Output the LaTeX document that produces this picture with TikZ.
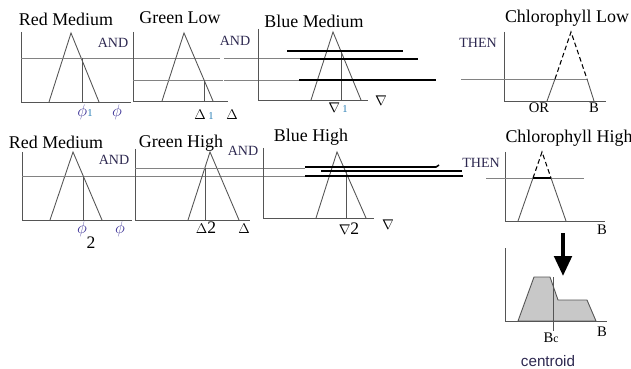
\documentclass[tikz,border=0pt]{standalone}
\usepackage{fontspec}
\setmainfont{Liberation Serif}
\newfontfamily\capfont{Liberation Sans}
\usetikzlibrary{arrows.meta}
\definecolor{axc}{RGB}{85,85,85}
\definecolor{lvc}{RGB}{130,130,130}
\definecolor{opc}{RGB}{45,40,80}
\definecolor{phc}{RGB}{60,50,150}
\definecolor{ixc}{RGB}{40,125,180}
\definecolor{arc}{RGB}{200,200,200}
% axes of one panel: #1 x of the axis, #2 top, #3 base, #4 right end
\newcommand{\axes}[4]{%
  \draw[axis] (#1,#2) -- (#1,#3) -- (#4,#3);}
% triangular set: #1 left foot, #2 apex x, #3 apex y, #4 right foot, #5 base
\newcommand{\mf}[5]{%
  \draw[tri] (#1,#5) -- (#2,#3) -- (#4,#5);}
\newcommand{\sx}[1]{{\fontsize{9}{10}\selectfont\textcolor{ixc}{#1}}}
\newcommand{\bx}[1]{{\fontsize{15}{16}\selectfont #1}}

\begin{document}
\begin{tikzpicture}[x=0.3mm, y=-0.3mm,
    axis/.style={draw=axc, line width=0.75pt},
    tri/.style={draw=axc, line width=0.75pt},
    lvl/.style={draw=lvc, line width=0.75pt},
    cut/.style={draw=black, line width=1.3pt},
    dsh/.style={draw=black, line width=0.9pt, dash pattern=on 4pt off 2.5pt},
    ttl/.style={font=\fontsize{15.3}{17}\selectfont},
    op/.style={font=\fontsize{12}{13}\selectfont, text=opc},
    lab/.style={font=\fontsize{12.5}{14}\selectfont},
    phl/.style={font=\fontsize{14.5}{16}\selectfont, text=phc},
  ]
  \useasboundingbox (0,0) rectangle (631,368);

  %% ================= first rule =================
  % Red Medium
  \axes{21}{32}{102}{131}
  \mf{49}{71}{33}{99}{102}
  \draw[lvl] (21,58) -- (220,58);
  \draw[axis] (82,58) -- (82,102);
  \node[ttl] (ttlRedA) at (66,19) {Red Medium};
  \node[op] (andRedA) at (113,43) {AND};
  \node[phl] (phiA) at (85,112) {$\phi$\sx{1}};
  \node[phl] (phiAx) at (117,112) {$\phi$};

  % Green Low
  \axes{133}{32}{101}{228}
  \mf{162}{184}{33}{213}{101}
  \draw[lvl] (133,80) -- (223,80);
  \draw[lvl] (224,58) -- (301,58);
  \draw[lvl] (224,80) -- (300,80);
  \draw[axis] (204,80) -- (204,101);
  \node[ttl] (ttlGrnA) at (180,18) {Green Low};
  \node[op] (andGrnA) at (235,41) {AND};
  \node[lab] (dltA) at (204,115) {$\Delta$\,\sx{1}};
  \node[lab] (dltAx) at (232,115) {$\Delta$};

  % Blue Medium
  \axes{258}{29}{100}{368}
  \mf{311}{333}{32}{361}{100}
  \draw[axis] (341,53) -- (341,100);
  \draw[cut, line width=1pt] (287,51) -- (403,51);
  \draw[cut] (300,59) -- (418,59);
  \draw[cut] (299,80) -- (436,80);
  \node[ttl] (ttlBluA) at (314,21) {Blue Medium};
  \node[lab] (nblA) at (338,108) {$\nabla$\,\sx{1}};
  \node[lab] (nblAx) at (381,101) {$\nabla$};

  % Chlorophyll Low
  \axes{504}{32}{101}{606}
  \draw[lvl] (461,79) -- (588,79);
  \draw[tri] (547,101) -- (555,79);
  \draw[dsh] (555,79) -- (571,32) -- (587,79);
  \draw[tri] (587,79) -- (594,101);
  \node[ttl] (ttlChlA) at (567,18) {Chlorophyll Low};
  \node[op] (thenA) at (478,43) {THEN};
  \node[lab] (orA) at (539,108) {OR};
  \node[lab] (bA) at (594,108) {B};

  %% ================= second rule =================
  % Red Medium
  \axes{22}{152}{220}{132}
  \mf{50}{73}{152}{102}{220}
  \draw[lvl] (22,176) -- (305,176);
  \draw[axis] (83,176) -- (83,220);
  \node[ttl] (ttlRedB) at (56,142) {Red Medium};
  \node[op] (andRedB) at (114,160) {AND};
  \node[phl] (phiB) at (82,229) {$\phi$};
  \node[lab] (twoB) at (91,243) {\bx{2}};
  \node[phl] (phiBx) at (120,229) {$\phi$};

  % Green High
  \axes{135}{149}{220}{250}
  \mf{188}{210}{152}{239}{220}
  \draw[lvl] (135,168) -- (305,168);
  \draw[axis] (205,168) -- (205,220);
  \node[ttl] (ttlGrnB) at (181,143) {Green High};
  \node[op] (andGrnB) at (243,151) {AND};
  \node[lab] (dltB) at (206,228) {$\Delta$\bx{2}};
  \node[lab] (dltBx) at (244,229) {$\Delta$};

  % Blue High
  \axes{263}{148}{218}{374}
  \mf{316}{337}{152}{366}{218}
  \draw[axis] (346,171) -- (346,218);
  \draw[cut] (305,167) -- (436,167) -- (439,165);
  \draw[cut] (321,171) -- (462,171);
  \draw[cut] (305,176) -- (463,176);
  \node[ttl] (ttlBluB) at (311,137) {Blue High};
  \node[lab] (nblB) at (349,229) {$\nabla$\bx{2}};
  \node[lab] (nblBx) at (388,225) {$\nabla$};

  % Chlorophyll High
  \axes{505}{152}{221}{605}
  \draw[lvl] (486,178) -- (584,178);
  \draw[tri] (518,221) -- (533,178);
  \draw[dsh] (533,178) -- (542,152) -- (551,178);
  \draw[tri] (551,178) -- (566,221);
  \draw[cut, line width=1.1pt] (533,178) -- (551,178);
  \node[ttl] (ttlChlB) at (569,138) {Chlorophyll High};
  \node[op] (thenB) at (481,163) {THEN};
  \node[lab] (bB) at (602,230) {B};

  %% ================= aggregation and centroid =================
  \coordinate (arrTop) at (563,233);
  \coordinate (arrTip) at (563,276);
  \draw[-{Triangle[width=5.2mm,length=6mm]}, line width=1.2mm] (arrTop) -- (arrTip);

  \filldraw[fill=arc, draw=axc, line width=0.75pt]
    (518,321) -- (534,277) -- (550,277) -- (558,300) -- (587,300) -- (596,321) -- cycle;
  \axes{505}{248}{321}{607}
  \draw[axis] (553,277) -- (553,331);
  \node[lab] (bc) at (551,338) {B{\fontsize{10}{11}\selectfont c}};
  \node[lab] (bC) at (602,332) {B};
  \node[font=\capfont\fontsize{13}{14}\selectfont, text=opc] (cen) at (548,361) {centroid};

\end{tikzpicture}
\end{document}
